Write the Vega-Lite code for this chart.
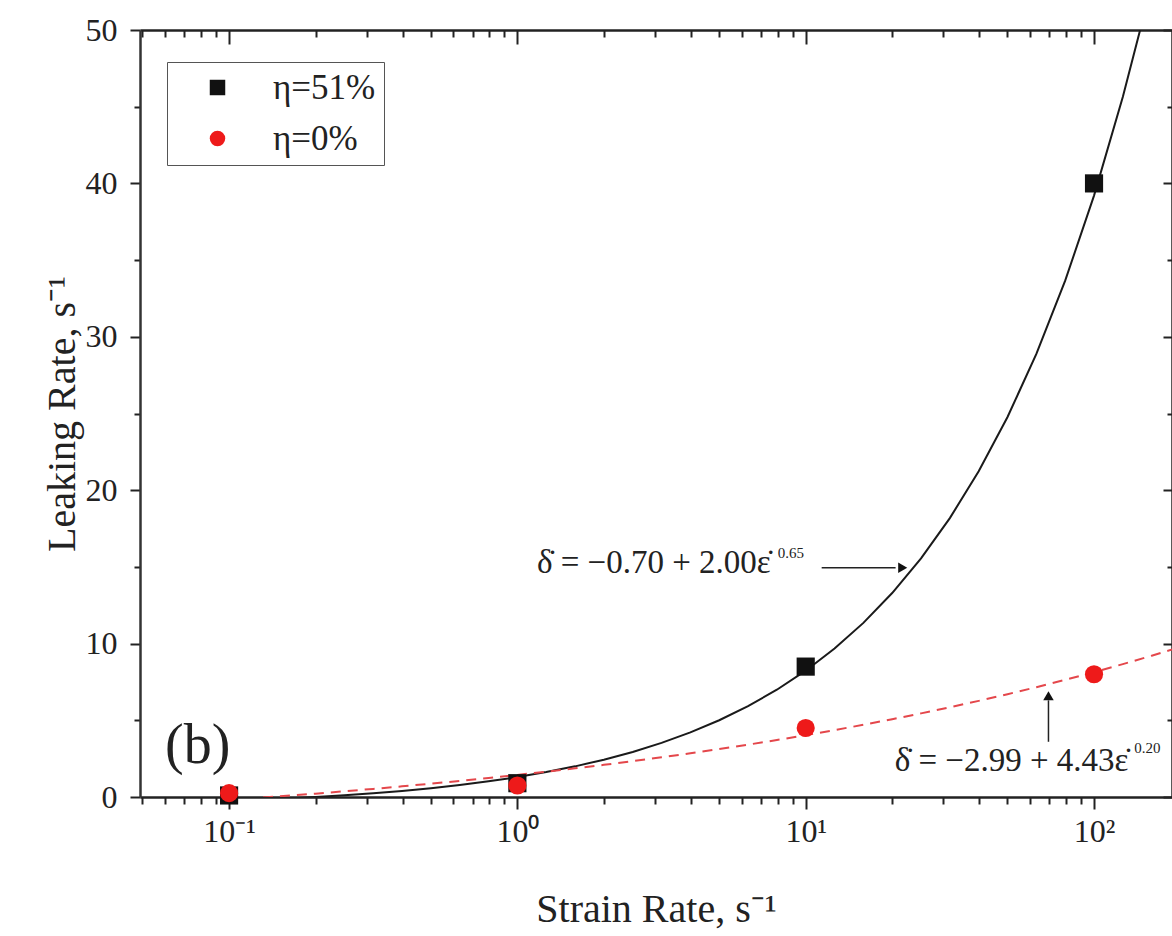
{
  "$schema": "https://vega.github.io/schema/vega-lite/v6.json",
  "width": 1032,
  "height": 767,
  "autosize": {"type": "none"},
  "padding": {"left": 140, "top": 30, "right": 0, "bottom": 139},
  "background": "white",
  "config": {
    "view": {"stroke": null},
    "font": "Liberation Serif, DejaVu Serif, serif",
    "text": {"font": "Liberation Serif, DejaVu Serif, serif", "color": "#222"}
  },
  "datasets": {
    "points": [
      {"series": "η=51%", "rate": 0.1, "leak": 0.1},
      {"series": "η=51%", "rate": 1, "leak": 0.9},
      {"series": "η=51%", "rate": 10, "leak": 8.5},
      {"series": "η=51%", "rate": 100, "leak": 40.0},
      {"series": "η=0%", "rate": 0.1, "leak": 0.25},
      {"series": "η=0%", "rate": 1, "leak": 0.75},
      {"series": "η=0%", "rate": 10, "leak": 4.5},
      {"series": "η=0%", "rate": 100, "leak": 8.0}
    ],
    "fitBlack": [
      {"rate": 0.1585, "leak": -0.096},
      {"rate": 0.1995, "leak": 0.002},
      {"rate": 0.2512, "leak": 0.115},
      {"rate": 0.3162, "leak": 0.246},
      {"rate": 0.3981, "leak": 0.399},
      {"rate": 0.5012, "leak": 0.577},
      {"rate": 0.631, "leak": 0.783},
      {"rate": 0.7943, "leak": 1.022},
      {"rate": 1, "leak": 1.3},
      {"rate": 1.259, "leak": 1.623},
      {"rate": 1.585, "leak": 1.998},
      {"rate": 1.995, "leak": 2.434},
      {"rate": 2.512, "leak": 2.939},
      {"rate": 3.162, "leak": 3.527},
      {"rate": 3.981, "leak": 4.209},
      {"rate": 5.012, "leak": 5.002},
      {"rate": 6.31, "leak": 5.923},
      {"rate": 7.943, "leak": 6.992},
      {"rate": 10, "leak": 8.234},
      {"rate": 12.59, "leak": 9.676},
      {"rate": 15.85, "leak": 11.351},
      {"rate": 19.95, "leak": 13.297},
      {"rate": 25.12, "leak": 15.557},
      {"rate": 31.62, "leak": 18.181},
      {"rate": 39.81, "leak": 21.23},
      {"rate": 50.12, "leak": 24.77},
      {"rate": 63.1, "leak": 28.882},
      {"rate": 79.43, "leak": 33.658},
      {"rate": 100, "leak": 39.205},
      {"rate": 125.9, "leak": 45.648},
      {"rate": 144.5, "leak": 50.0},
      {"rate": 158.5, "leak": 53.13}
    ],
    "fitRed": [
      {"rate": 0.1, "leak": -0.195},
      {"rate": 0.1259, "leak": -0.063},
      {"rate": 0.1585, "leak": 0.075},
      {"rate": 0.1995, "leak": 0.219},
      {"rate": 0.2512, "leak": 0.371},
      {"rate": 0.3162, "leak": 0.529},
      {"rate": 0.3981, "leak": 0.695},
      {"rate": 0.5012, "leak": 0.868},
      {"rate": 0.631, "leak": 1.05},
      {"rate": 0.7943, "leak": 1.241},
      {"rate": 1, "leak": 1.44},
      {"rate": 1.259, "leak": 1.649},
      {"rate": 1.585, "leak": 1.867},
      {"rate": 1.995, "leak": 2.096},
      {"rate": 2.512, "leak": 2.336},
      {"rate": 3.162, "leak": 2.587},
      {"rate": 3.981, "leak": 2.85},
      {"rate": 5.012, "leak": 3.125},
      {"rate": 6.31, "leak": 3.413},
      {"rate": 7.943, "leak": 3.715},
      {"rate": 10, "leak": 4.031},
      {"rate": 12.59, "leak": 4.362},
      {"rate": 15.85, "leak": 4.708},
      {"rate": 19.95, "leak": 5.071},
      {"rate": 25.12, "leak": 5.451},
      {"rate": 31.62, "leak": 5.849},
      {"rate": 39.81, "leak": 6.266},
      {"rate": 50.12, "leak": 6.702},
      {"rate": 63.1, "leak": 7.159},
      {"rate": 79.43, "leak": 7.637},
      {"rate": 100, "leak": 8.138},
      {"rate": 125.9, "leak": 8.662},
      {"rate": 158.5, "leak": 9.211},
      {"rate": 199.5, "leak": 9.786}
    ],
    "notes": [
      {"kind": "panel", "rate": 0.06, "leak": 2.2, "text": "(b)"},
      {"kind": "eq", "rate": 1.169, "leak": 14.6, "text": "\u03b4\u0307 = \u22120.70 + 2.00\u03b5\u0307"},
      {"kind": "sup", "rate": 8.0, "leak": 15.6, "text": "0.65"},
      {"kind": "eq", "rate": 20.35, "leak": 1.7, "text": "\u03b4\u0307 = \u22122.99 + 4.43\u03b5\u0307"},
      {"kind": "sup", "rate": 138.0, "leak": 2.9, "text": "0.20"}
    ],
    "hArrow": [{"rate": 11.36, "rate2": 20.5, "leak": 14.95}],
    "vArrow": [{"rate": 69.5, "leak": 3.6, "leak2": 6.3}],
    "heads": [
      {"dir": "right", "rate": 21.7, "leak": 14.95},
      {"dir": "up", "rate": 69.5, "leak": 6.6}
    ]
  },
  "resolve": {"axis": {"x": "independent", "y": "independent"}},
  "layer": [
    {
      "data": {"name": "fitBlack"},
      "mark": {"type": "line", "color": "#1a1a1a", "strokeWidth": 2, "clip": true},
      "encoding": {
        "x": {
          "field": "rate", "type": "quantitative",
          "scale": {"type": "log", "domain": [0.0491, 186.4], "nice": false},
          "axis": {
            "orient": "bottom",
            "title": "Strain Rate, s\u207b\u00b9",
            "values": [0.05, 0.06, 0.07, 0.08, 0.09, 0.1, 0.2, 0.3, 0.4, 0.5, 0.6, 0.7, 0.8, 0.9, 1, 2, 3, 4, 5, 6, 7, 8, 9, 10, 20, 30, 40, 50, 60, 70, 80, 90, 100],
            "labelExpr": "datum.value == 0.1 ? '10\u207b\u00b9' : datum.value == 1 ? '10\u2070' : datum.value == 10 ? '10\u00b9' : datum.value == 100 ? '10\u00b2' : ''",
            "tickSize": 12,
            "tickDash": {"condition": {"test": "indexof([0.1, 1, 10, 100], datum.value) < 0", "value": [7, 40]}, "value": []},
            "tickWidth": 2, "tickColor": "#222",
            "domainColor": "#222", "domainWidth": 2.5,
            "labelFont": "Liberation Serif", "labelFontSize": 32, "labelColor": "#222",
            "labelPadding": 7, "labelOverlap": false, "labelFlush": false,
            "titleFont": "Liberation Serif", "titleFontSize": 40, "titleFontWeight": "normal", "titleColor": "#222",
            "titlePadding": 42, "grid": false
          }
        },
        "y": {
          "field": "leak", "type": "quantitative",
          "scale": {"domain": [0, 50], "nice": false, "zero": false},
          "axis": {
            "orient": "left",
            "title": "Leaking Rate, s\u207b\u00b9",
            "values": [0, 5, 10, 15, 20, 25, 30, 35, 40, 45, 50],
            "labelExpr": "datum.value % 10 == 0 ? datum.label : ''",
            "tickSize": 10,
            "tickDash": {"condition": {"test": "datum.value % 10 != 0", "value": [6, 40]}, "value": []},
            "tickWidth": 2, "tickColor": "#222",
            "domainColor": "#333", "domainWidth": 2.5,
            "labelFont": "Liberation Serif", "labelFontSize": 32, "labelColor": "#222",
            "labelPadding": 13, "labelOverlap": false,
            "titleFont": "Liberation Serif", "titleFontSize": 40, "titleFontWeight": "normal", "titleColor": "#222",
            "titlePadding": 3, "grid": false
          }
        }
      }
    },
    {
      "data": {"name": "fitRed"},
      "mark": {"type": "line", "color": "#e4474b", "strokeWidth": 2, "strokeDash": [10, 7], "clip": true},
      "encoding": {
        "x": {"field": "rate", "type": "quantitative", "scale": {"type": "log", "domain": [0.0491, 186.4], "nice": false}, "axis": null},
        "y": {"field": "leak", "type": "quantitative", "scale": {"domain": [0, 50], "nice": false, "zero": false}, "axis": null}
      }
    },
    {
      "data": {"name": "hArrow"},
      "mark": {"type": "rule", "color": "#222", "strokeWidth": 1.5},
      "encoding": {
        "x": {"field": "rate", "type": "quantitative", "scale": {"type": "log", "domain": [0.0491, 186.4], "nice": false}, "axis": null},
        "x2": {"field": "rate2"},
        "y": {"field": "leak", "type": "quantitative", "scale": {"domain": [0, 50], "nice": false, "zero": false}, "axis": null}
      }
    },
    {
      "data": {"name": "vArrow"},
      "mark": {"type": "rule", "color": "#222", "strokeWidth": 1.5},
      "encoding": {
        "x": {"field": "rate", "type": "quantitative", "scale": {"type": "log", "domain": [0.0491, 186.4], "nice": false}, "axis": null},
        "y": {"field": "leak", "type": "quantitative", "scale": {"domain": [0, 50], "nice": false, "zero": false}, "axis": null},
        "y2": {"field": "leak2"}
      }
    },
    {
      "data": {"name": "heads"},
      "transform": [{"filter": "datum.dir == 'right'"}],
      "mark": {"type": "point", "shape": "triangle-right", "filled": true, "color": "#111", "size": 110, "opacity": 1},
      "encoding": {
        "x": {"field": "rate", "type": "quantitative", "scale": {"type": "log", "domain": [0.0491, 186.4], "nice": false}, "axis": null},
        "y": {"field": "leak", "type": "quantitative", "scale": {"domain": [0, 50], "nice": false, "zero": false}, "axis": null}
      }
    },
    {
      "data": {"name": "heads"},
      "transform": [{"filter": "datum.dir == 'up'"}],
      "mark": {"type": "point", "shape": "triangle-up", "filled": true, "color": "#111", "size": 110, "opacity": 1},
      "encoding": {
        "x": {"field": "rate", "type": "quantitative", "scale": {"type": "log", "domain": [0.0491, 186.4], "nice": false}, "axis": null},
        "y": {"field": "leak", "type": "quantitative", "scale": {"domain": [0, 50], "nice": false, "zero": false}, "axis": null}
      }
    },
    {
      "data": {"name": "points"},
      "mark": {"type": "point", "filled": true, "size": 330, "opacity": 1, "strokeWidth": 0},
      "encoding": {
        "x": {"field": "rate", "type": "quantitative", "scale": {"type": "log", "domain": [0.0491, 186.4], "nice": false}, "axis": null},
        "y": {"field": "leak", "type": "quantitative", "scale": {"domain": [0, 50], "nice": false, "zero": false}, "axis": null},
        "color": {
          "field": "series", "type": "nominal",
          "scale": {"domain": ["η=51%", "η=0%"], "range": ["#111111", "#ee1a1a"]},
          "legend": {
            "orient": "none", "legendX": 27, "legendY": 32, "title": null,
            "strokeColor": "#555", "padding": 8, "fillColor": "white",
            "labelFont": "Liberation Serif, DejaVu Serif, serif", "labelFontSize": 35, "labelColor": "#222",
            "symbolSize": 240, "symbolStrokeWidth": 0, "symbolOffset": 25, "labelOffset": 38,
            "rowPadding": 15
          }
        },
        "shape": {
          "field": "series", "type": "nominal",
          "scale": {"domain": ["η=51%", "η=0%"], "range": ["square", "circle"]},
          "legend": {
            "orient": "none", "legendX": 27, "legendY": 32, "title": null,
            "strokeColor": "#555", "padding": 8, "fillColor": "white",
            "labelFont": "Liberation Serif, DejaVu Serif, serif", "labelFontSize": 35, "labelColor": "#222",
            "symbolSize": 240, "symbolStrokeWidth": 0, "symbolOffset": 25, "labelOffset": 38,
            "rowPadding": 15
          }
        }
      }
    },
    {
      "data": {"name": "notes"},
      "transform": [{"filter": "datum.kind == 'panel'"}],
      "mark": {"type": "text", "align": "left", "baseline": "alphabetic", "fontSize": 56, "font": "Liberation Serif, DejaVu Serif, serif", "color": "#222"},
      "encoding": {
        "x": {"field": "rate", "type": "quantitative", "scale": {"type": "log", "domain": [0.0491, 186.4], "nice": false}, "axis": null},
        "y": {"field": "leak", "type": "quantitative", "scale": {"domain": [0, 50], "nice": false, "zero": false}, "axis": null},
        "text": {"field": "text"}
      }
    },
    {
      "data": {"name": "notes"},
      "transform": [{"filter": "datum.kind == 'eq'"}],
      "mark": {"type": "text", "align": "left", "baseline": "alphabetic", "fontSize": 33, "font": "Liberation Serif, DejaVu Serif, serif", "color": "#222"},
      "encoding": {
        "x": {"field": "rate", "type": "quantitative", "scale": {"type": "log", "domain": [0.0491, 186.4], "nice": false}, "axis": null},
        "y": {"field": "leak", "type": "quantitative", "scale": {"domain": [0, 50], "nice": false, "zero": false}, "axis": null},
        "text": {"field": "text"}
      }
    },
    {
      "data": {"name": "notes"},
      "transform": [{"filter": "datum.kind == 'sup'"}],
      "mark": {"type": "text", "align": "left", "baseline": "alphabetic", "fontSize": 15, "font": "Liberation Serif, DejaVu Serif, serif", "color": "#222"},
      "encoding": {
        "x": {"field": "rate", "type": "quantitative", "scale": {"type": "log", "domain": [0.0491, 186.4], "nice": false}, "axis": null},
        "y": {"field": "leak", "type": "quantitative", "scale": {"domain": [0, 50], "nice": false, "zero": false}, "axis": null},
        "text": {"field": "text"}
      }
    },
    {
      "data": {"name": "points"},
      "mark": {"type": "point", "opacity": 0},
      "encoding": {
        "x": {
          "field": "rate", "type": "quantitative",
          "scale": {"type": "log", "domain": [0.0491, 186.4], "nice": false},
          "axis": {
            "orient": "top", "title": null, "labels": false,
            "values": [0.05, 0.06, 0.07, 0.08, 0.09, 0.1, 0.2, 0.3, 0.4, 0.5, 0.6, 0.7, 0.8, 0.9, 1, 2, 3, 4, 5, 6, 7, 8, 9, 10, 20, 30, 40, 50, 60, 70, 80, 90, 100],
            "tickSize": -14,
            "tickDash": {"condition": {"test": "indexof([0.1, 1, 10, 100], datum.value) < 0", "value": [7, 40]}, "value": []},
            "tickWidth": 2, "tickColor": "#222",
            "domainColor": "#222", "domainWidth": 2.5, "grid": false
          }
        },
        "y": {
          "field": "leak", "type": "quantitative",
          "scale": {"domain": [0, 50], "nice": false, "zero": false},
          "axis": {
            "orient": "right", "title": null, "labels": false,
            "values": [0, 5, 10, 15, 20, 25, 30, 35, 40, 45, 50],
            "tickSize": -9,
            "tickDash": {"condition": {"test": "datum.value % 10 != 0", "value": [5, 40]}, "value": []},
            "tickWidth": 2, "tickColor": "#222",
            "domainColor": "#222", "domainWidth": 2.5, "grid": false
          }
        }
      }
    }
  ]
}
